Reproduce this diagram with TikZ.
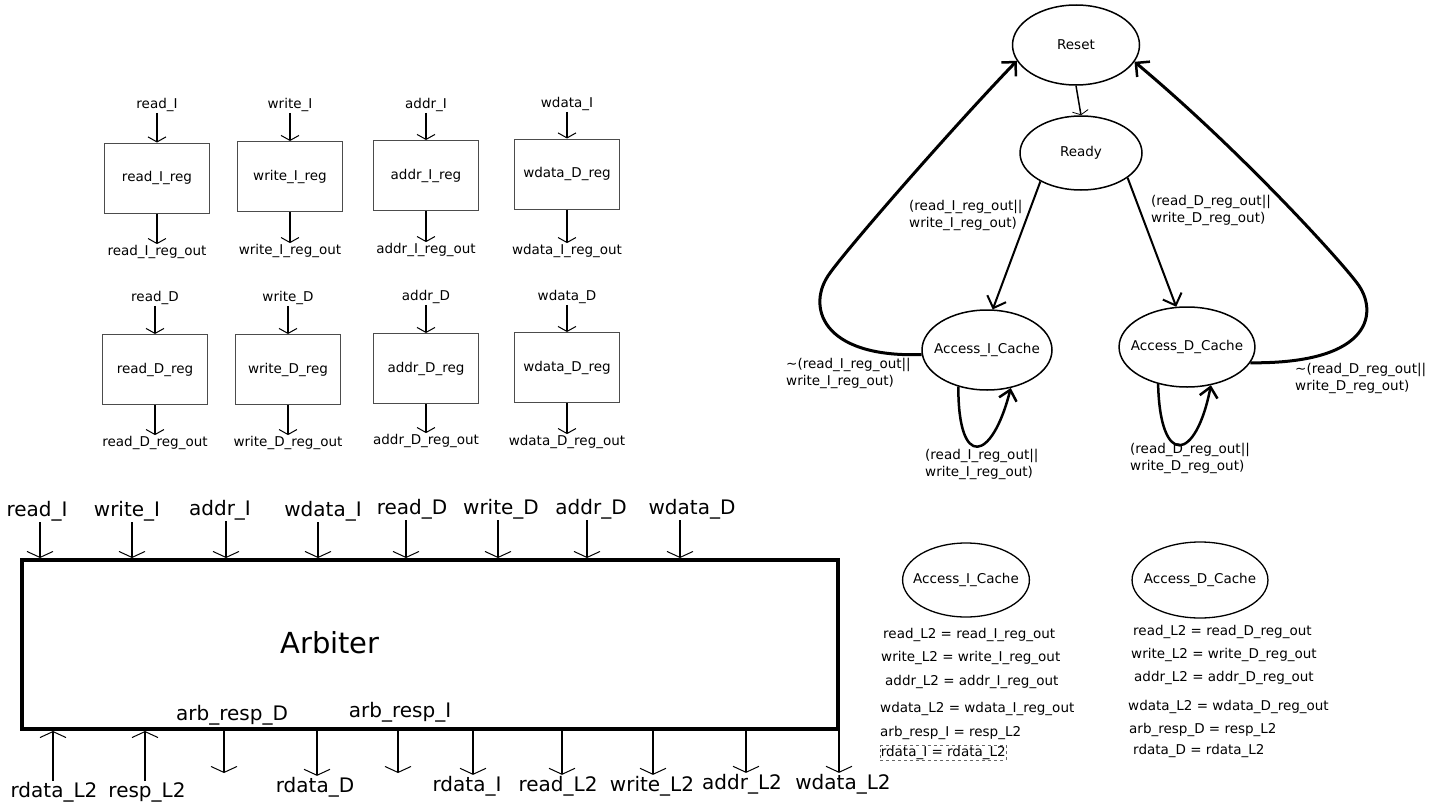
\documentclass[tikz,border=0pt]{standalone}
\usepackage{fontspec}
\setmainfont{DejaVu Sans}
\usetikzlibrary{arrows.meta,shapes.geometric}
\begin{document}
\begin{tikzpicture}[x=1pt,y=-1pt,
 sm/.style={font=\fontsize{13.5}{17}\selectfont, inner sep=1pt},
 bg/.style={font=\fontsize{20}{24}\selectfont, inner sep=1pt},
 regbox/.style={draw=black!70, line width=1pt, minimum width=105pt, minimum height=70pt, inner sep=0pt, font=\fontsize{13.5}{17}\selectfont},
 regarr/.style={line width=2pt, -{Straight Barb[length=5pt,width=18pt,line width=1pt]}},
 stateell/.style={ellipse, draw, line width=1.5pt, inner xsep=-8pt, inner ysep=0pt, font=\fontsize{13.5}{17}\selectfont},
 transarr/.style={line width=2pt, -{Straight Barb[length=10pt,width=20pt,line width=2pt]}},
 backarr/.style={line width=3pt, -{Straight Barb[length=10pt,width=20pt,line width=2.5pt]}},
 selfarr/.style={line width=2.5pt, -{Straight Barb[length=10pt,width=18pt,line width=2.5pt]}},
 rsarr/.style={line width=1.5pt, -{Straight Barb[length=4pt,width=16pt,line width=0.8pt]}},
 arbbox/.style={draw, line width=4pt, minimum width=816pt, minimum height=169pt},
 arbarr/.style={line width=2pt, -{Straight Barb[length=6pt,width=26pt,line width=1pt]}},
 eq/.style={sm, anchor=west},
 cond/.style={sm, anchor=west, align=left},
]
\useasboundingbox (0,0) rectangle (1436,811);
\fill[white] (0,0) rectangle (1436,811);

% ---------------- registers ----------------
\foreach \id/\cx/\cy/\iy/\oy/\inp/\reg/\outp in {
 a/157/178/105/252/read\_I/read\_I\_reg/read\_I\_reg\_out,
 b/290/176.5/105/251/write\_I/write\_I\_reg/write\_I\_reg\_out,
 c/426/175.5/105/250/addr\_I/addr\_I\_reg/addr\_I\_reg\_out,
 d/567/174/104/251/wdata\_I/wdata\_D\_reg/wdata\_I\_reg\_out,
 e/155/369.5/298/443/read\_D/read\_D\_reg/read\_D\_reg\_out,
 f/288/369.5/298/443/write\_D/write\_D\_reg/write\_D\_reg\_out,
 g/426/368.5/297/441/addr\_D/addr\_D\_reg/addr\_D\_reg\_out,
 h/567/367.5/297/442/wdata\_D/wdata\_D\_reg/wdata\_D\_reg\_out}{
 \node[regbox] (reg\id) at (\cx,\cy) {\reg};
 \node[sm] (in\id) at (\cx,\iy) {\inp};
 \node[sm] (out\id) at (\cx,\oy) {\outp};
 \draw[regarr] (in\id.south) -- (in\id.south |- reg\id.north);
 \draw[regarr] (reg\id.south) -- (reg\id.south |- out\id.north);
}

% ---------------- state machine ----------------
\node[stateell, minimum width=127pt, minimum height=80pt] (reset) at (1076,45) {Reset};
\node[stateell, minimum width=122pt, minimum height=74pt] (ready) at (1081,153) {Ready};
\node[stateell, minimum width=130pt, minimum height=80pt] (aic) at (987,350) {Access\_I\_Cache};
\node[stateell, minimum width=126pt, minimum height=80pt] (adc) at (1187,347) {Access\_D\_Cache};

\draw[rsarr] (reset.south) -- (ready.north);
\draw[transarr] (ready.215) -- (aic.82);
\draw[transarr] (ready.-28) -- (adc.105);
\draw[backarr] (aic.184) .. controls (820,358) and (806,305) .. (830,273)
   .. controls (850,245) and (955,125) .. (reset.195);
\draw[backarr] (adc.-14) .. controls (1375,364) and (1378,310) .. (1357,283)
   .. controls (1340,260) and (1240,150) .. (reset.-16);
\draw[selfarr] (aic.232) .. controls (958,470) and (992,462) .. (aic.-58);
\draw[selfarr] (adc.232) .. controls (1160,468) and (1196,462) .. (adc.-58);

\node[cond] (c1) at (908,215) {(read\_I\_reg\_out||\\write\_I\_reg\_out)};
\node[cond] (c2) at (1150,210) {(read\_D\_reg\_out||\\write\_D\_reg\_out)};
\node[cond] (c3) at (785,373) {\textasciitilde(read\_I\_reg\_out||\\write\_I\_reg\_out)};
\node[cond] (c4) at (1294,378) {\textasciitilde(read\_D\_reg\_out||\\write\_D\_reg\_out)};
\node[cond] (c5) at (924,464) {(read\_I\_reg\_out||\\write\_I\_reg\_out)};
\node[cond] (c6) at (1129,458) {(read\_D\_reg\_out||\\write\_D\_reg\_out)};

% ---------------- state outputs ----------------
\node[stateell, line width=1.3pt, minimum width=104pt, minimum height=74pt] (aic2) at (966,580) {Access\_I\_Cache};
\node[stateell, line width=1.3pt, minimum width=120pt, minimum height=76pt] (adc2) at (1200,580) {Access\_D\_Cache};

\node[eq] (li1) at (882,635) {read\_L2 = read\_I\_reg\_out};
\node[eq] (li2) at (880,658) {write\_L2 = write\_I\_reg\_out};
\node[eq] (li3) at (884,682) {addr\_L2 = addr\_I\_reg\_out};
\node[eq] (li4) at (879,709) {wdata\_L2 = wdata\_I\_reg\_out};
\node[eq] (li5) at (879,733) {arb\_resp\_I = resp\_L2};
\node[eq, draw=black!60, dashed, line width=0.6pt, inner sep=0.5pt] (li6) at (880,753) {rdata\_I = rdata\_L2};

\node[eq] (ld1) at (1132,632) {read\_L2 = read\_D\_reg\_out};
\node[eq] (ld2) at (1130,655) {write\_L2 = write\_D\_reg\_out};
\node[eq] (ld3) at (1133,678) {addr\_L2 = addr\_D\_reg\_out};
\node[eq] (ld4) at (1127,707) {wdata\_L2 = wdata\_D\_reg\_out};
\node[eq] (ld5) at (1128,730) {arb\_resp\_D = resp\_L2};
\node[eq] (ld6) at (1132,751) {rdata\_D = rdata\_L2};

% ---------------- arbiter ----------------
\node[arbbox] (arb) at (430,644.5) {};
\node[font=\fontsize{29}{34}\selectfont] (arbl) at (330,643) {Arbiter};

\node[bg] (t1) at (37,511) {read\_I};
\node[bg] (t2) at (127,511) {write\_I};
\node[bg] (t3) at (220,510) {addr\_I};
\node[bg] (t4) at (323,511) {wdata\_I};
\node[bg] (t5) at (412,509) {read\_D};
\node[bg] (t6) at (501,509) {write\_D};
\node[bg] (t7) at (591,509) {addr\_D};
\node[bg] (t8) at (692,509) {wdata\_D};
\foreach \t/\dx in {t1/3,t2/5,t3/6,t4/-5,t5/-6,t6/-3,t7/-4,t8/-12}{
 \draw[arbarr] ([xshift=\dx pt]\t.south) -- ([xshift=\dx pt]\t.south |- arb.north);
}

\node[bg] (ard) at (232,715) {arb\_resp\_D};
\node[bg] (ari) at (400,712) {arb\_resp\_I};

\node[bg] (b1) at (54,792) {rdata\_L2};
\node[bg] (b2) at (147,792) {resp\_L2};
\node[bg] (b3) at (315,787) {rdata\_D};
\node[bg] (b4) at (467,786) {rdata\_I};
\node[bg] (b5) at (558,786) {read\_L2};
\node[bg] (b6) at (652,786) {write\_L2};
\node[bg] (b7) at (742,784) {addr\_L2};
\node[bg] (b8) at (843,784) {wdata\_L2};

\draw[arbarr] ([xshift=-1pt]b1.north) -- ([xshift=-1pt]b1.north |- arb.south);
\draw[arbarr] ([xshift=-2pt]b2.north) -- ([xshift=-2pt]b2.north |- arb.south);
\foreach \b/\dx in {b3/2,b4/6,b5/4,b6/1,b7/4,b8/-4}{
 \draw[arbarr] ([xshift=\dx pt]\b.north |- arb.south) -- ([xshift=\dx pt]\b.north);
}
\coordinate (ardend) at (224,773);
\coordinate (ariend) at (398,773);
\draw[arbarr] (ardend |- arb.south) -- (ardend);
\draw[arbarr] (ariend |- arb.south) -- (ariend);
\end{tikzpicture}
\end{document}
